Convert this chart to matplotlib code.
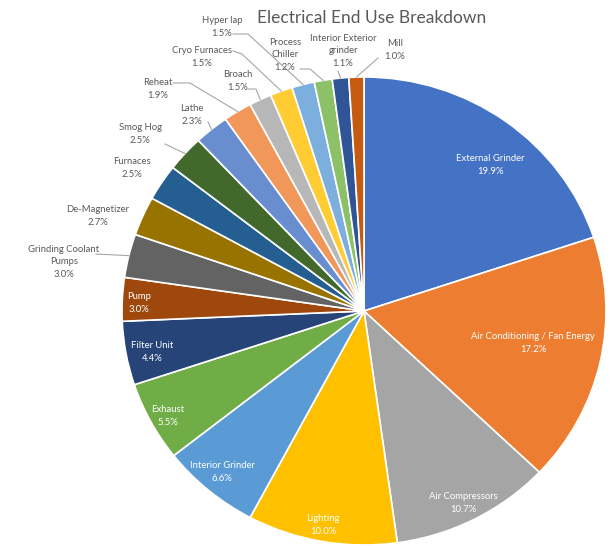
import numpy as np
import matplotlib
matplotlib.use("Agg")
import matplotlib.pyplot as plt

plt.rcParams["font.family"] = ["Lato", "DejaVu Sans"]

# Data
labels = ["External Grinder", "Air Conditioning / Fan Energy", "Air Compressors",
          "Lighting", "Interior Grinder", "Exhaust", "Filter Unit", "Pump",
          "Grinding Coolant\nPumps", "De-Magnetizer", "Furnaces", "Smog Hog",
          "Lathe", "Reheat", "Broach", "Cryo Furnaces", "Hyper lap",
          "Process\nChiller", "Interior Exterior\ngrinder", "Mill"]
shares = [19.9, 17.2, 10.7, 10.0, 6.6, 5.5, 4.4, 3.0, 3.0, 2.7,
          2.5, 2.5, 2.3, 1.9, 1.5, 1.5, 1.5, 1.2, 1.1, 1.0]
colors = ["#4472C4", "#ED7D31", "#A5A5A5", "#FFC000", "#5B9BD5", "#70AD47",
          "#264478", "#9E480E", "#636363", "#997300", "#255E91", "#43682B",
          "#698ED0", "#F1975A", "#B7B7B7", "#FFCD33", "#7CAFDD", "#8CC168",
          "#2F5597", "#C55A11"]

# Layout (pixel positions of label centres, pie geometry)
CX, CY, RX, RY = 364, 311, 242, 234
label_px = [(490, 165), (533, 343), (463, 503), (323, 525), (222, 472),
            (168, 416), (152, 352), (139, 303), (64, 262), (98, 216),
            (132, 168), (140, 134), (192, 115), (158, 89), (238, 81),
            (202, 57), (222, 27), (285, 55), (343, 51), (395, 50)]
inside = 8  # first eight slices carry their label inside
# leader lines: label-side start and optional elbow, in pixels
leaders = {8: [(96, 254)], 11: [(165, 144)], 12: [(208, 122)],
           13: [(173, 83), (190, 83)], 14: [(248, 89), (256, 89)],
           15: [(233, 51), (242, 54)], 16: [(233, 34), (248, 34)],
           17: [(300, 69), (310, 69)], 18: [(338, 71)], 19: [(378, 58)]}


def px(x, y):
    return (x - CX) / RX, (CY - y) / RY


fig = plt.figure(figsize=(6.14, 5.46), dpi=100)
ax = fig.add_axes([0, 0, 1, 1])
wedges, _ = ax.pie(shares, colors=colors, startangle=90, counterclock=False,
                   wedgeprops=dict(edgecolor="white", linewidth=1.2))
ax.set_aspect("auto")
ax.set_xlim(px(0, 0)[0], px(614, 0)[0])
ax.set_ylim(px(0, 546)[1], px(0, 0)[1])
ax.axis("off")

for i, (lab, val) in enumerate(zip(labels, shares)):
    x, y = px(*label_px[i])
    col = "white" if i < inside else "#595959"
    ax.text(x, y, f"{lab}\n{val:.1f}%", ha="center", va="center",
            fontsize=6.8, color=col, linespacing=1.45)
    if i in leaders:
        w = wedges[i]
        ang = np.deg2rad((w.theta1 + w.theta2) / 2)
        pts = [px(*p) for p in leaders[i]] + [(np.cos(ang), np.sin(ang))]
        ax.plot([p[0] for p in pts], [p[1] for p in pts], color="#A6A6A6",
                linewidth=0.8)

tx, ty = px(372, 18)
ax.text(tx, ty, "Electrical End Use Breakdown", ha="center", va="center",
        fontsize=12.5, color="#595959")

fig.savefig("out.png", dpi=100)
